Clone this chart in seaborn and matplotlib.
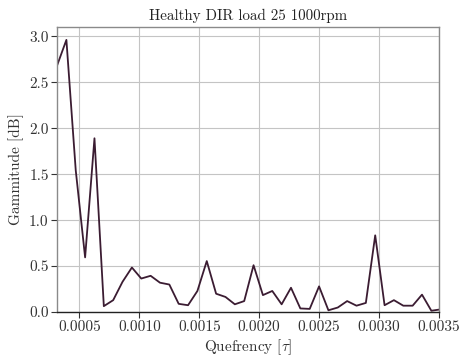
import numpy as np
import pandas as pd
import matplotlib
matplotlib.use("Agg")
import matplotlib.pyplot as plt
import seaborn as sns

fs = 12800.0
sample_index = list(range(4, 46))
gammitude = [2.68, 2.96, 1.54, 0.595, 1.89, 0.065, 0.13, 0.33, 0.485, 0.365,
             0.395, 0.32, 0.30, 0.09, 0.075, 0.23, 0.555, 0.20, 0.165, 0.085,
             0.12, 0.51, 0.185, 0.23, 0.085, 0.265, 0.04, 0.035, 0.28, 0.02,
             0.05, 0.12, 0.07, 0.10, 0.835, 0.075, 0.13, 0.07, 0.07, 0.19,
             0.015, 0.03]
quefrency = [n / fs for n in sample_index]
xticks = [0.0005, 0.0010, 0.0015, 0.0020, 0.0025, 0.0030, 0.0035]
yticks = [0.0, 0.5, 1.0, 1.5, 2.0, 2.5, 3.0]

sns.set_theme(style="whitegrid")
plt.rcParams.update({
    "font.family": ["cmr10", "DejaVu Serif"],
    "mathtext.fontset": "cm",
    "axes.formatter.use_mathtext": True,
    "axes.unicode_minus": False,
})

df = pd.DataFrame({"q": quefrency, "g": gammitude})
fig = plt.figure(figsize=(4.6, 3.6), dpi=100)
ax = fig.add_axes([0.124, 0.133, 0.830, 0.792])
sns.lineplot(data=df, x="q", y="g", ax=ax, color="#3b1c32", linewidth=1.3)

ax.set_xlim(4 / fs, 0.0035)
ax.set_ylim(0, 3.1)
ax.set_xticks(xticks)
ax.set_xticklabels([f"{t:.4f}" for t in xticks])
ax.set_yticks(yticks)
ax.set_yticklabels([f"{t:.1f}" for t in yticks])
ax.tick_params(axis="both", which="major", length=4, width=0.8, color="#333333",
               labelsize=11, labelcolor="#333333", pad=2, direction="out",
               bottom=True, left=True)
ax.grid(True, color="#c4c4c4", linewidth=0.8)
for s in ["top", "right", "left"]:
    ax.spines[s].set_color("#8a8a8a")
    ax.spines[s].set_linewidth(1.0)
ax.spines["bottom"].set_color("#222222")
ax.spines["bottom"].set_linewidth(1.0)

ax.set_title("Healthy DIR load 25 1000rpm", fontsize=10.8, color="#222222", pad=5)
ax.set_xlabel(r"Quefrency $[\tau]$", fontsize=11, color="#333333", labelpad=2)
ax.set_ylabel("Gammitude [dB]", fontsize=11, color="#333333", labelpad=4)

fig.savefig("out.png", dpi=100)
